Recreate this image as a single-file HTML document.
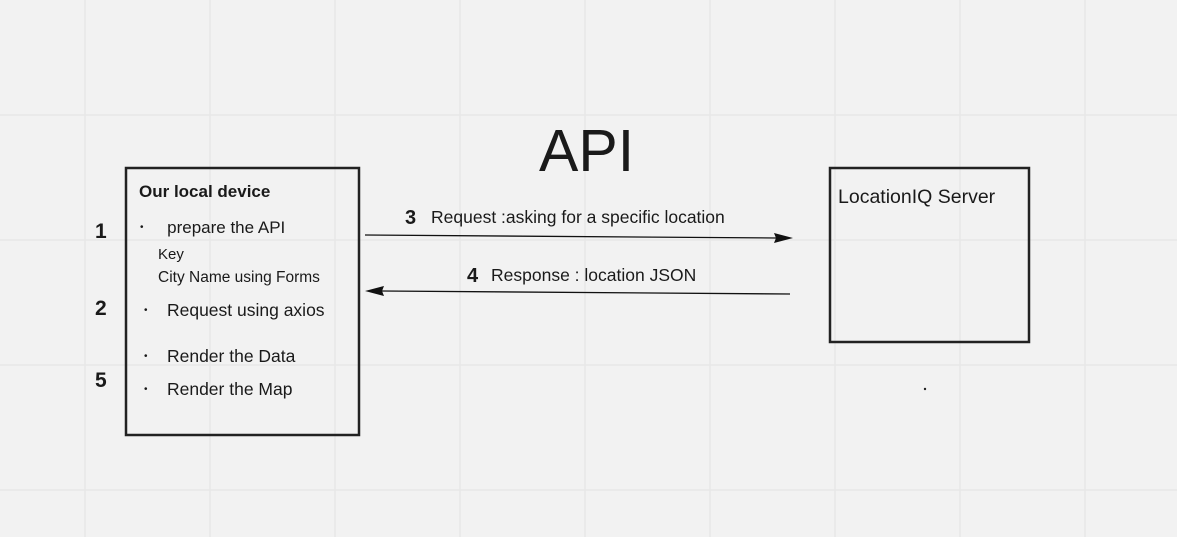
<!DOCTYPE html>
<html><head><style>
body{margin:0;width:1177px;height:537px;overflow:hidden;background:#f2f2f2;font-family:"Liberation Sans",sans-serif;color:#1a1a1a;position:relative}
.t{position:absolute;white-space:nowrap}
.b{font-size:10px;vertical-align:3px}
</style></head><body>
<svg width="1177" height="537" style="position:absolute;left:0;top:0">
<g stroke="#e6e6e6" stroke-width="1.2">
<line x1="85" y1="0" x2="85" y2="537"/><line x1="210" y1="0" x2="210" y2="537"/><line x1="335" y1="0" x2="335" y2="537"/><line x1="460" y1="0" x2="460" y2="537"/><line x1="585" y1="0" x2="585" y2="537"/><line x1="710" y1="0" x2="710" y2="537"/><line x1="835" y1="0" x2="835" y2="537"/><line x1="960" y1="0" x2="960" y2="537"/><line x1="1085" y1="0" x2="1085" y2="537"/>
<line x1="0" y1="115" x2="1177" y2="115"/><line x1="0" y1="240" x2="1177" y2="240"/><line x1="0" y1="365" x2="1177" y2="365"/><line x1="0" y1="490" x2="1177" y2="490"/>
</g>
<rect x="126" y="168" width="233" height="267" fill="none" stroke="#222" stroke-width="2.5"/>
<rect x="830" y="168" width="199" height="174" fill="none" stroke="#222" stroke-width="2.5"/>
<line x1="365" y1="235" x2="776" y2="238" stroke="#111" stroke-width="1.3"/>
<polygon points="793,238 774,233 776,238 774,243" fill="#111"/>
<line x1="790" y1="294" x2="382" y2="291" stroke="#111" stroke-width="1.3"/>
<polygon points="365,291 384,286 382,291 384,296" fill="#111"/>
<circle cx="925" cy="389" r="1.2" fill="#222"/>
</svg>
<div class="t" style="left:539px;top:117px;font-size:59px">API</div>
<div class="t" style="left:139px;top:182px;font-size:17px;font-weight:bold">Our local device</div>
<div class="t" style="left:140px;top:218px;font-size:17px"><span class="b">•</span>&nbsp;&nbsp;&nbsp;&nbsp; prepare the API</div>
<div class="t" style="left:158px;top:246px;font-size:15px">Key</div>
<div class="t" style="left:158px;top:269px;font-size:15.5px">City Name using Forms</div>
<div class="t" style="left:144px;top:300px;font-size:17.5px"><span class="b">•</span>&nbsp;&nbsp;&nbsp; Request using axios</div>
<div class="t" style="left:144px;top:346px;font-size:17.5px"><span class="b">•</span>&nbsp;&nbsp;&nbsp; Render the Data</div>
<div class="t" style="left:144px;top:379px;font-size:17.5px"><span class="b">•</span>&nbsp;&nbsp;&nbsp; Render the Map</div>
<div class="t" style="left:95px;top:220px;font-size:21px;font-weight:bold">1</div>
<div class="t" style="left:95px;top:297px;font-size:21px;font-weight:bold">2</div>
<div class="t" style="left:95px;top:369px;font-size:21px;font-weight:bold">5</div>
<div class="t" style="left:405px;top:207px;font-size:20px;font-weight:bold">3</div>
<div class="t" style="left:431px;top:207px;font-size:17.5px">Request :asking for a specific location</div>
<div class="t" style="left:467px;top:265px;font-size:20px;font-weight:bold">4</div>
<div class="t" style="left:491px;top:265px;font-size:17.5px">Response : location JSON</div>
<div class="t" style="left:838px;top:186px;font-size:19.5px">LocationIQ Server</div>
</body></html>
